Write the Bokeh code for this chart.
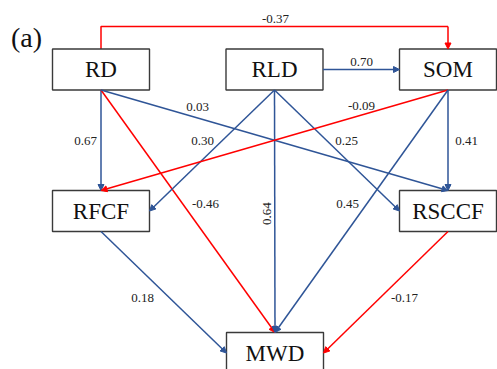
import math
from bokeh.plotting import figure
from bokeh.models import Range1d, Arrow, NormalHead, ColumnDataSource
from bokeh.core.properties import value
from bokeh.embed import file_html
from bokeh.resources import INLINE

# ---- data ----
node_names = ["RD", "RLD", "SOM", "RFCF", "RSCCF", "MWD"]
edge_sources = ["RD", "RD", "RD", "RLD", "RLD", "RLD", "RLD", "SOM", "SOM", "SOM", "RFCF", "RSCCF", "RD"]
edge_targets = ["RFCF", "MWD", "RSCCF", "RFCF", "MWD", "RSCCF", "SOM", "RFCF", "RSCCF", "MWD", "MWD", "MWD", "SOM"]
edge_coefs = [0.67, -0.46, 0.03, 0.30, 0.64, 0.25, 0.70, -0.09, 0.41, 0.45, 0.18, -0.17, -0.37]

# ---- layout (screen-like coordinates) ----
node_center = {
    "RD": (100.5, 69), "RLD": (274, 69), "SOM": (447.5, 69),
    "RFCF": (100.5, 210.5), "RSCCF": (447.5, 210.5), "MWD": (274.5, 352.5),
}
BW, BH = 97, 41
edge_anchors = [
    ("bottom", "top"), ("bottom", "top"), ("bottom", "top"),
    ("bottom", "right"), ("bottom", "top"), ("bottom", "left"),
    ("right", "left"), ("bottom", "top"), ("bottom", "top"),
    ("bottom", "top"), ("bottom", "left"), ("bottom", "right"),
    ("elbow", "top"),
]
label_pos = [(85, 140), (205, 203), (197, 106), (202, 140), (266, 213), (346, 140),
             (361, 61), (361, 105), (466, 140), (347, 203), (142, 297), (404, 297), (275, 18)]
label_angle = [0, 0, 0, 0, math.pi / 2, 0, 0, 0, 0, 0, 0, 0, 0]
ELBOW_Y = 26

BLUE = "#2F5597"
RED = "#FF0000"
SERIF = value("Liberation Serif")


def anchor(name, side):
    cx, cy = node_center[name]
    if side == "top":
        return cx, cy - BH / 2
    if side == "bottom":
        return cx, cy + BH / 2
    if side == "left":
        return cx - BW / 2, cy
    if side == "right":
        return cx + BW / 2, cy
    return cx, cy - BH / 2


p = figure(width=497, height=369, output_backend="svg", toolbar_location=None,
           x_range=Range1d(0, 497), y_range=Range1d(369, 0), min_border=0)
p.axis.visible = False
p.grid.visible = False
p.outline_line_color = None
p.background_fill_color = "white"

# edges
for s, t, c, (a1, a2) in zip(edge_sources, edge_targets, edge_coefs, edge_anchors):
    color = RED if c < 0 else BLUE
    x0, y0 = anchor(s, a1 if a1 != "elbow" else "top")
    x1, y1 = anchor(t, a2)
    if a1 == "elbow":
        p.line([x0, x0, x1], [y0, ELBOW_Y, ELBOW_Y], line_color=color, line_width=1.5)
        x0, y0 = x1, ELBOW_Y
    p.add_layout(Arrow(end=NormalHead(size=6, fill_color=color, line_color=color, line_width=1),
                       x_start=x0, y_start=y0, x_end=x1, y_end=y1,
                       line_color=color, line_width=1.5))

# boxes
src_nodes = ColumnDataSource(dict(
    left=[node_center[n][0] - BW / 2 for n in node_names],
    right=[node_center[n][0] + BW / 2 for n in node_names],
    top=[node_center[n][1] - BH / 2 for n in node_names],
    bottom=[node_center[n][1] + BH / 2 for n in node_names],
    x=[node_center[n][0] for n in node_names],
    y=[node_center[n][1] for n in node_names],
    name=node_names,
))
p.quad(left="left", right="right", top="top", bottom="bottom", source=src_nodes,
       fill_color="white", line_color="#3a3a3a", line_width=1.4)
p.text(x="x", y="y", text="name", source=src_nodes, text_font=SERIF, text_font_size="23px",
       text_align="center", text_baseline="middle", text_color="#111111")

# coefficient labels
p.text(x=[q[0] for q in label_pos], y=[q[1] for q in label_pos],
       text=[f"{c:.2f}" for c in edge_coefs], angle=label_angle,
       text_font=SERIF, text_font_size="13px", text_align="center",
       text_baseline="middle", text_color="#222222")

# panel tag
p.text(x=[26], y=[37], text=["(a)"], text_font=SERIF, text_font_size="28px",
       text_align="center", text_baseline="middle", text_color="#111111")

open("out.html", "w").write(file_html(p, INLINE))
